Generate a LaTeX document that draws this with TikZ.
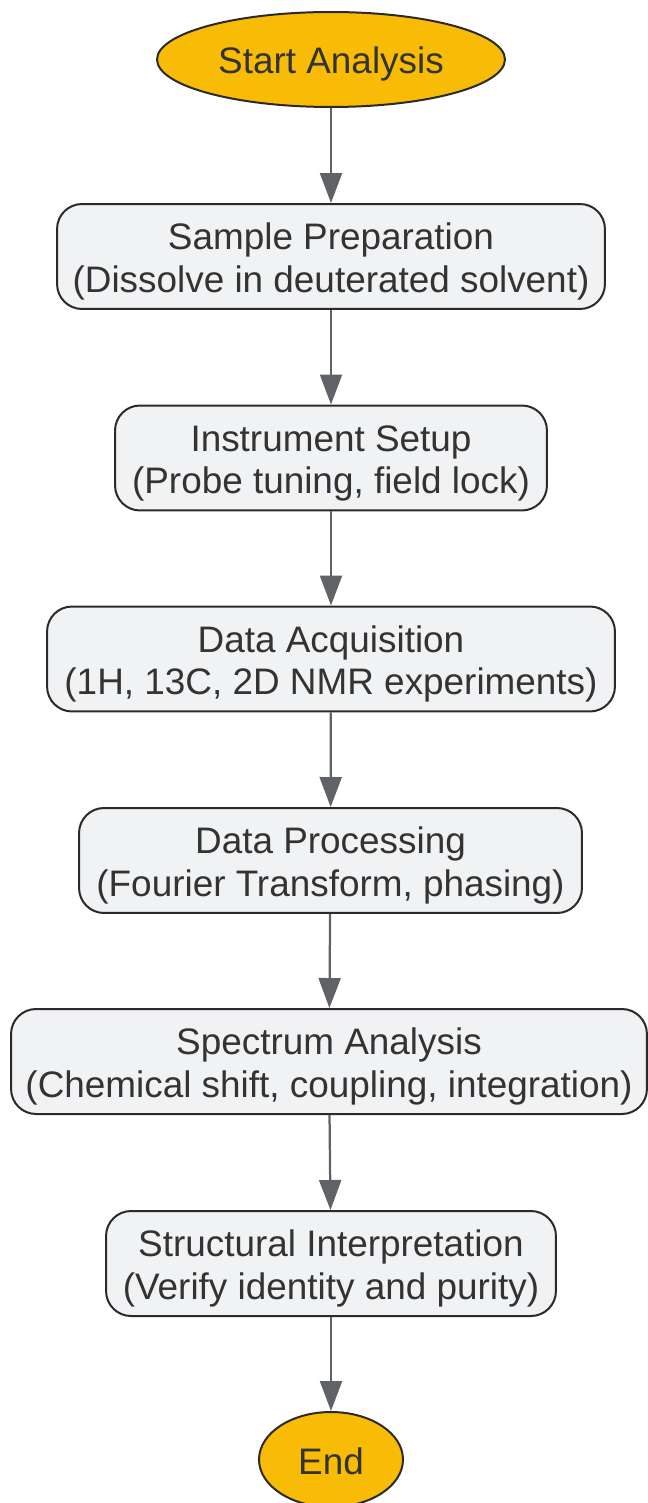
\documentclass[tikz,border=0pt]{standalone}
\usepackage{fontspec}
\setmainfont{Liberation Sans}
\usetikzlibrary{shapes.geometric,arrows.meta}
\definecolor{termfill}{HTML}{F9BC06}
\definecolor{stepfill}{HTML}{F1F2F4}
\definecolor{edgegray}{HTML}{2A2A2A}
\definecolor{arrowgray}{HTML}{5F6368}
\definecolor{textgray}{HTML}{333333}
\newcommand{\toprow}{\rule[-3.2pt]{0pt}{24pt}}
\begin{document}
\begin{tikzpicture}[x=0.02cm, y=-0.02cm,
  every node/.style={text=textgray, font=\fontsize{21}{24}\selectfont, align=center, inner sep=0pt},
  term/.style={ellipse, draw=edgegray, line width=0.04cm, fill=termfill},
  stepbox/.style={rectangle, rounded corners=0.5cm, draw=edgegray, line width=0.04cm, fill=stepfill, minimum height=2.1cm},
  flow/.style={draw=arrowgray, line width=0.045cm, -{Triangle[length=0.6cm, width=0.44cm]}}]
\useasboundingbox (0,0) rectangle (648,1503);
\node[term, minimum width=6.96cm, minimum height=1.9cm] (sid0) at (331,59.5){\toprow Start Analysis};
\node[stepbox, minimum width=10.96cm] (sid1) at (331,256.5){\toprow Sample Preparation\\(Dissolve in deuterated solvent)};
\node[stepbox, minimum width=8.64cm] (sid2) at (331,458){\toprow Instrument Setup\\(Probe tuning, field lock)};
\node[stepbox, minimum width=11.36cm] (sid3) at (331,659){\toprow Data Acquisition\\(1H, 13C, 2D NMR experiments)};
\node[stepbox, minimum width=10.06cm] (sid4) at (330.5,860.5){\toprow Data Processing\\(Fourier Transform, phasing)};
\node[stepbox, minimum width=12.72cm] (sid5) at (329,1061.5){\toprow Spectrum Analysis\\(Chemical shift, coupling, integration)};
\node[stepbox, minimum width=9cm] (sid6) at (331,1263.5){\toprow Structural Interpretation\\(Verify identity and purity)};
\node[term, minimum width=2.88cm, minimum height=1.9cm] (sid7) at (331,1459.5){\toprow End};
\draw[flow](sid0) -- (sid1);
\draw[flow](sid1) -- (sid2);
\draw[flow](sid2) -- (sid3);
\draw[flow](sid3) -- (sid4);
\draw[flow](sid4) -- (sid5);
\draw[flow](sid5) -- (sid6);
\draw[flow](sid6) -- (sid7);
\end{tikzpicture}
\end{document}
